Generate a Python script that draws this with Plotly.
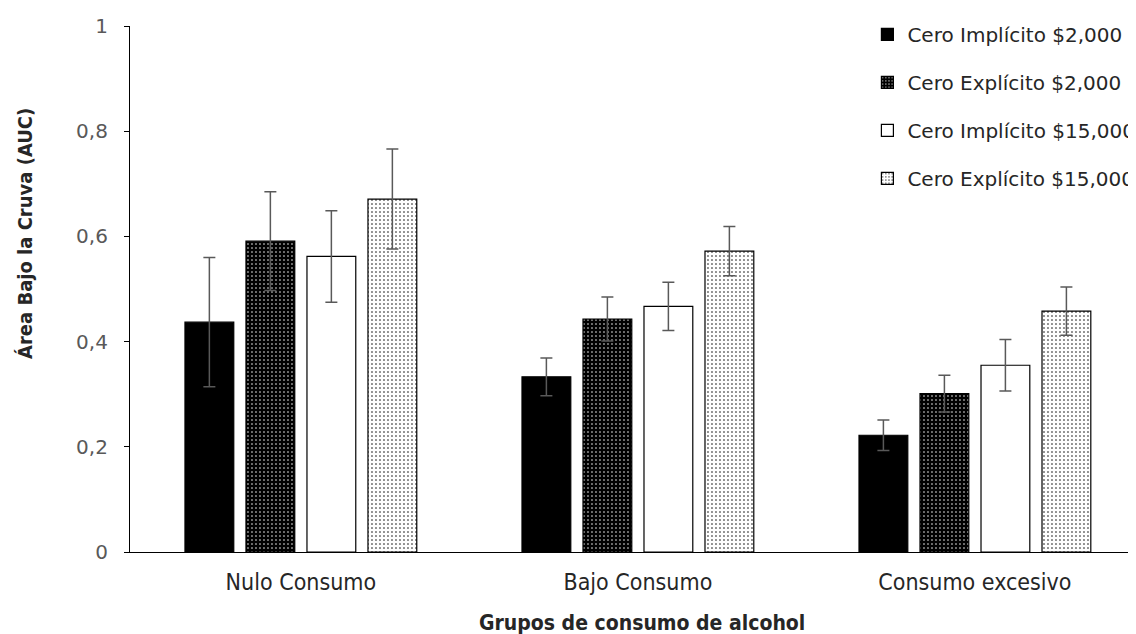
import plotly.graph_objects as go

categories = ["Nulo Consumo", "Bajo Consumo", "Consumo excesivo"]
series_names = ["Cero Implícito $2,000", "Cero Explícito $2,000",
                "Cero Implícito $15,000", "Cero Explícito $15,000"]
imp_2000 = [0.437, 0.333, 0.222]
exp_2000 = [0.591, 0.443, 0.301]
imp_15000 = [0.562, 0.467, 0.355]
exp_15000 = [0.671, 0.572, 0.458]
err_imp_2000 = [0.123, 0.036, 0.029]
err_exp_2000 = [0.094, 0.042, 0.035]
err_imp_15000 = [0.087, 0.046, 0.049]
err_exp_15000 = [0.095, 0.047, 0.046]
y_ticks = [0, 0.2, 0.4, 0.6, 0.8, 1]
y_ticklabels = ["0", "0,2", "0,4", "0,6", "0,8", "1"]
y_title = "Área Bajo la Cruva (AUC)"
x_title = "Grupos de consumo de alcohol"

values = [imp_2000, exp_2000, imp_15000, exp_15000]
errors = [err_imp_2000, err_exp_2000, err_imp_15000, err_exp_15000]
styles = [
    dict(color="black", pattern=None),
    dict(color="black", pattern=dict(shape=".", bgcolor="black", fgcolor="white",
                                     size=4, solidity=0.12, fillmode="replace")),
    dict(color="white", pattern=None),
    dict(color="white", pattern=dict(shape=".", bgcolor="white", fgcolor="black",
                                     size=4, solidity=0.12, fillmode="replace")),
]

fig = go.Figure()
for i, (name, vals, errs, st) in enumerate(zip(series_names, values, errors, styles)):
    marker = dict(color=st["color"], line=dict(color="black", width=1.2))
    if st["pattern"] is not None:
        marker["pattern"] = st["pattern"]
    fig.add_trace(go.Bar(
        x=list(range(len(categories))), y=vals, name=name, marker=marker,
        legendgroup=f"g{i}",
        error_y=dict(type="data", array=errs, visible=True, color="#595959",
                     thickness=1.5, width=6),
    ))

cond = "DejaVu Sans Condensed, Liberation Sans Narrow, Arial"
wide = "DejaVu Sans, Verdana, Arial"

fig.update_layout(
    width=1128, height=626,
    margin=dict(l=122, r=0, t=18, b=82, autoexpand=False),
    plot_bgcolor="white", paper_bgcolor="white",
    barmode="group", bargap=0.276, bargroupgap=0.2,
    font=dict(family=cond, size=17, color="#262626"),
    showlegend=True,
    legend=dict(x=0.733, y=1.021, xanchor="left", yanchor="top",
                font=dict(family=wide, size=20, color="#262626"),
                tracegroupgap=19, itemwidth=30, bgcolor="rgba(0,0,0,0)"),
    xaxis=dict(
        range=[-0.507, 2.478], tickmode="array",
        tickvals=list(range(len(categories))), ticktext=categories,
        showline=True, linecolor="black", linewidth=1.2, ticks="",
        ticklabelstandoff=9,
        showgrid=False, zeroline=False, automargin=False,
        tickfont=dict(family=cond, size=23, color="#262626"),
    ),
    yaxis=dict(
        range=[0, 1], tickmode="array", tickvals=y_ticks, ticktext=y_ticklabels,
        showline=True, linecolor="black", linewidth=1.2,
        ticks="outside", ticklen=5, tickcolor="black", tickwidth=1,
        ticklabelstandoff=12,
        showgrid=False, zeroline=False, automargin=False,
        tickfont=dict(family=wide, size=20, color="#595959"),
    ),
    annotations=[
        dict(text=f"<b>{y_title}</b>", xref="paper", yref="paper",
             x=-0.1044, y=0.6065, xanchor="center", yanchor="middle",
             textangle=-90, showarrow=False,
             font=dict(family=cond, size=20, color="#262626")),
        dict(text=f"<b>{x_title}</b>", xref="paper", yref="paper",
             x=0.509, y=-0.135, xanchor="center", yanchor="middle",
             showarrow=False,
             font=dict(family=cond, size=21, color="#262626")),
    ],
)

fig.write_html("out.html")
